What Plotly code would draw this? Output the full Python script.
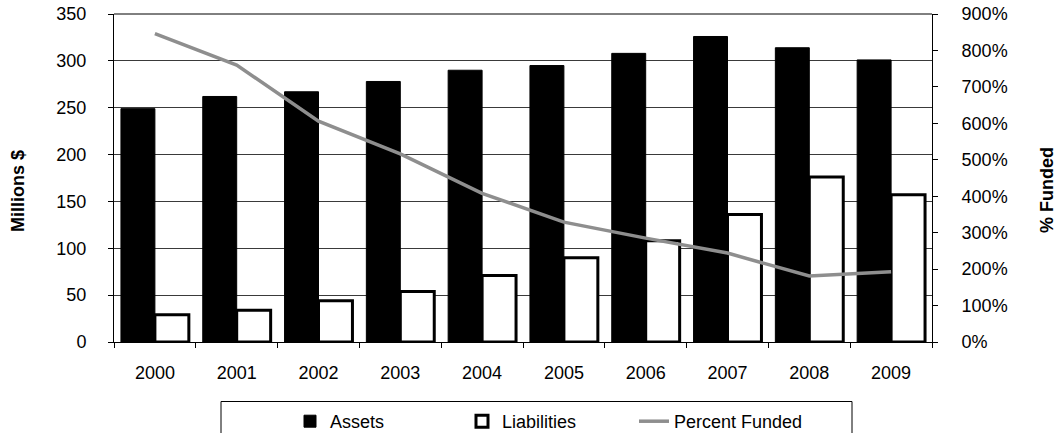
import plotly.graph_objects as go

years = ["2000", "2001", "2002", "2003", "2004", "2005", "2006", "2007", "2008", "2009"]
assets = [249, 262, 267, 278, 290, 295, 308, 326, 314, 301]
liabilities = [29, 34, 44, 54, 71, 90, 108, 136, 176, 157]
percent_funded = [846, 760, 606, 516, 408, 329, 285, 244, 181, 193]

FONT = "Liberation Sans, Arial, sans-serif"
W, H = 1056, 433
# plot area in page pixels
L, R, T, B = 114, 932, 14, 342


def px_x(x):
    return (x - L) / (R - L)


def px_y(y):
    return (B - y) / (B - T)


fig = go.Figure()
fig.add_trace(go.Bar(x=years, y=assets, name="Assets",
                     marker=dict(color="black", line=dict(color="black", width=1))))
fig.add_trace(go.Bar(x=years, y=liabilities, name="Liabilities",
                     marker=dict(color="white", line=dict(color="black", width=3))))
fig.add_trace(go.Scatter(x=years, y=percent_funded, name="Percent Funded", yaxis="y2",
                         mode="lines", line=dict(color="#8e8e8e", width=3.5)))

fig.update_layout(
    width=W, height=H,
    margin=dict(l=L, r=W - R, t=T, b=H - B, autoexpand=False),
    paper_bgcolor="white", plot_bgcolor="white",
    font=dict(family=FONT, size=18, color="black"),
    barmode="group", bargap=0.17, bargroupgap=0,
    showlegend=True,
    legend=dict(orientation="h", x=px_x(290), xanchor="left", y=px_y(403), yanchor="top",
                borderwidth=0, font=dict(size=18), bgcolor="rgba(0,0,0,0)",
                entrywidth=127, entrywidthmode="pixels", traceorder="normal"),
    xaxis=dict(showline=True, linecolor="black", linewidth=1, ticks="outside",
               ticklen=5, tickcolor="black", tickson="boundaries", showgrid=False,
               automargin=False, ticklabelstandoff=14),
    yaxis=dict(range=[0, 350], dtick=50, showline=True, linecolor="black", linewidth=1,
               ticks="outside", ticklen=5, tickcolor="black", showgrid=True,
               gridcolor="#3a3a3a", gridwidth=1, zeroline=False, automargin=False,
               ticklabelstandoff=18, ticklabeloverflow="allow"),
    yaxis2=dict(range=[0, 900], dtick=100, overlaying="y", side="right",
                ticksuffix="%", showline=True, linecolor="black", linewidth=1,
                ticks="outside", ticklen=5, tickcolor="black", showgrid=False,
                zeroline=False, automargin=False, ticklabelstandoff=20,
                ticklabeloverflow="allow"),
    annotations=[
        dict(text="<b>Millions $</b>", xref="paper", yref="paper", x=px_x(18), y=px_y(191),
             textangle=-90, showarrow=False, font=dict(size=18), xanchor="center",
             yanchor="middle"),
        dict(text="<b>% Funded</b>", xref="paper", yref="paper", x=px_x(1047), y=px_y(190),
             textangle=-90, showarrow=False, font=dict(size=18), xanchor="center",
             yanchor="middle"),
    ],
    shapes=[
        dict(type="line", xref="paper", yref="paper", x0=0, x1=1, y0=1, y1=1,
             line=dict(color="black", width=1)),
        dict(type="rect", xref="paper", yref="paper", x0=px_x(221), x1=px_x(852),
             y0=px_y(401.5), y1=px_y(445), line=dict(color="black", width=1),
             fillcolor="rgba(0,0,0,0)"),
    ],
)

fig.write_html("out.html",
               config={"displayModeBar": False},
               post_script="document.body.style.margin='0';"
                           "document.body.style.overflow='hidden';")
